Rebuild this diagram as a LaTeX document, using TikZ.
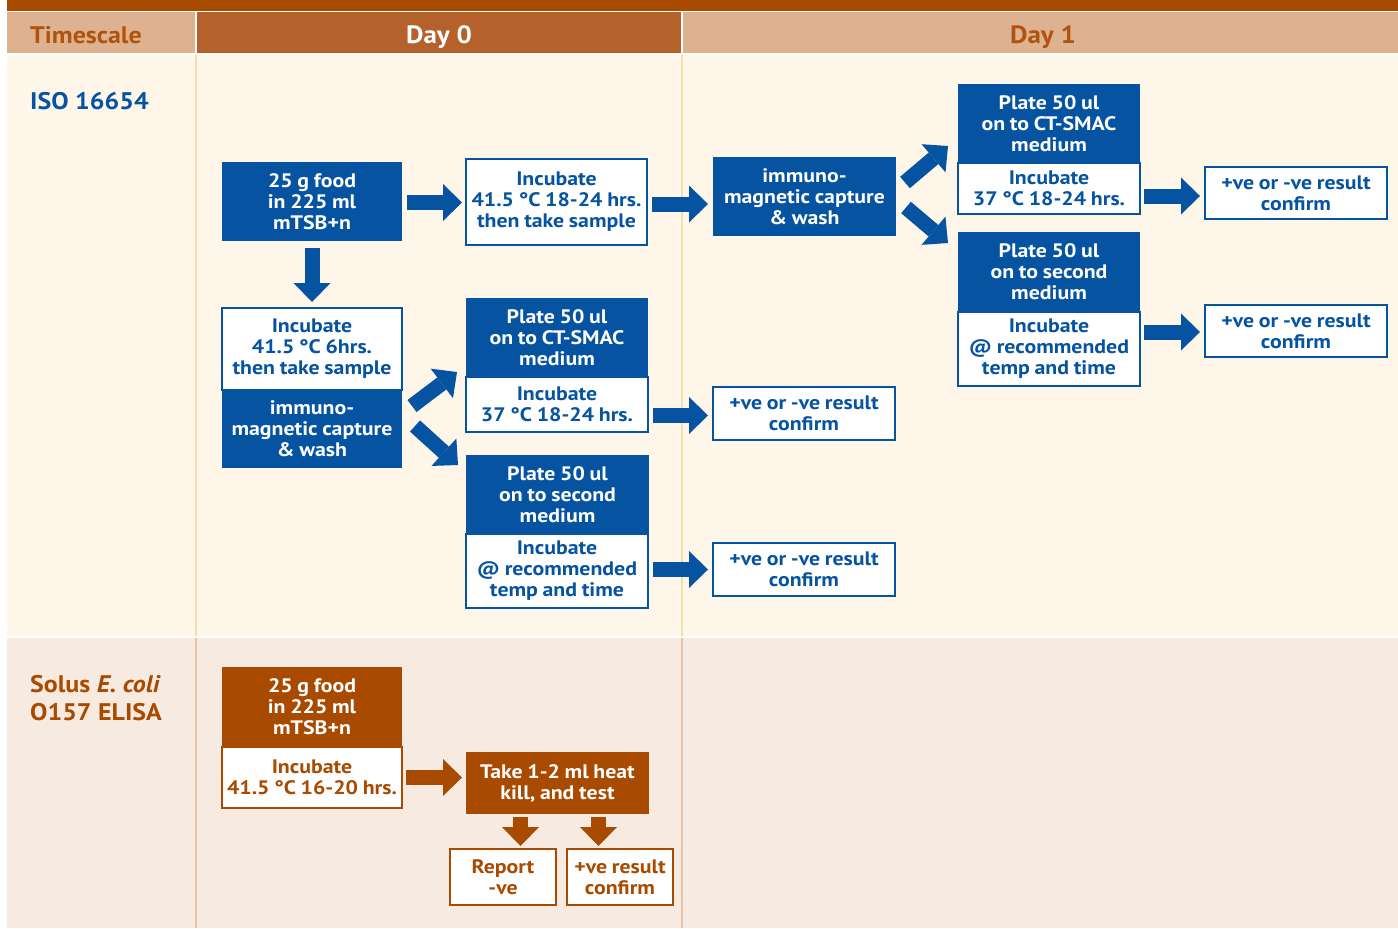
\documentclass[tikz,border=0pt]{standalone}
\usepackage{fontspec}
\setmainfont{PT Sans}
\newfontfamily\bodyfont{PT Sans}[FakeStretch=1.12, WordSpace=0.85]
\newfontfamily\lblfont{PT Sans}[FakeStretch=1.08]
\usetikzlibrary{arrows.meta}
\definecolor{isoblue}{HTML}{0553A1}
\definecolor{brn}{HTML}{A84A00}
\definecolor{hdrtan}{HTML}{DEB291}
\definecolor{hdrday}{HTML}{B5612B}
\definecolor{hdrtxt}{HTML}{B0530F}
\definecolor{isobg}{HTML}{FDF6E9}
\definecolor{solbg}{HTML}{F7EAE0}
\definecolor{isoline}{HTML}{F3DFAE}
\definecolor{solline}{HTML}{E6C3A6}
\tikzset{
  box/.style={anchor=north west, inner sep=0pt, outer sep=0pt, align=center,
    font=\bodyfont\bfseries\fontsize{19.5bp}{21bp}\selectfont},
  bluebox/.style={box, fill=isoblue, text=white},
  whitebox/.style={box, fill=white, draw=isoblue, line width=2bp, text=isoblue},
  brownbox/.style={box, fill=brn, text=white},
  wbrownbox/.style={box, fill=white, draw=brn, line width=2bp, text=brn},
  barrow/.style={draw=isoblue, line width=15bp,
    -{Triangle[width=37bp, length=19bp, line width=0pt]}},
  brarrow/.style={barrow, draw=brn},
  lbl/.style={anchor=base west, inner sep=0pt, font=\lblfont\bfseries\fontsize{24bp}{28bp}\selectfont},
  hdr/.style={anchor=base, inner sep=0pt, font=\lblfont\bfseries\fontsize{25bp}{28bp}\selectfont},
}
\begin{document}
\begin{tikzpicture}[x=1bp, y=-1bp]
\useasboundingbox (0,0) rectangle (1398,928);
% backgrounds
\fill[white] (0,0) rectangle (1398,928);
\fill[brn] (7,0) rectangle (1398,11);
\fill[hdrtan] (7,12) rectangle (195,53);
\fill[hdrday] (197,12) rectangle (681,53);
\fill[hdrtan] (683,12) rectangle (1398,53);
\fill[isobg] (7,55) rectangle (1398,636);
\fill[solbg] (7,638) rectangle (1398,928);
\draw[isoline, line width=2bp] (196,55) -- (196,636);
\draw[isoline, line width=2bp] (682,55) -- (682,636);
\draw[solline, line width=2bp] (196,638) -- (196,928);
\draw[solline, line width=2bp] (682,638) -- (682,928);
% headers
\node[lbl, text=hdrtxt] (ts) at (30,43) {Timescale};
\node[hdr, text=white] (d0) at (439,43) {Day 0};
\node[hdr, text=hdrtxt] (d1) at (1043,43) {Day 1};
\node[lbl, text=isoblue] (iso) at (30,109) {ISO 16654};
\node[lbl, text=brn] (sol1) at (30,692) {Solus \textit{E. coli}};
\node[lbl, text=brn] (sol2) at (30,720) {O157 ELISA};
% ISO day 0
\node[bluebox, minimum width=180bp, minimum height=79bp] (a1) at (222,162) {25 g food\\in 225 ml\\mTSB+n};
\node[whitebox, minimum width=181bp, minimum height=86bp] (a2) at (466,159) {Incubate\\41.5 °C 18-24 hrs.\\then take sample};
\node[bluebox, minimum width=183bp, minimum height=79bp] (a3) at (713,157) {immuno-\\magnetic capture\\\& wash};
\node[whitebox, minimum width=180bp, minimum height=82bp] (c1t) at (222,308) {Incubate\\41.5 °C 6hrs.\\then take sample};
\node[bluebox, minimum width=180bp, minimum height=78bp] (c1b) at (222,390) {immuno-\\magnetic capture\\\& wash};
\node[bluebox, minimum width=182bp, minimum height=79bp] (d1t) at (466,298) {Plate 50 ul\\on to CT-SMAC\\medium};
\node[whitebox, minimum width=182bp, minimum height=55bp] (d1b) at (466,377) {Incubate\\37 °C 18-24 hrs.};
\node[bluebox, minimum width=183bp, minimum height=79bp] (d2t) at (466,455) {Plate 50 ul\\on to second\\medium};
\node[whitebox, minimum width=182bp, minimum height=74bp] (d2b) at (466,534) {Incubate\\@ recommended\\temp and time};
\node[whitebox, minimum width=182bp, minimum height=53bp] (r3) at (713,387) {+ve or -ve result\\confirm};
\node[whitebox, minimum width=182bp, minimum height=53bp] (r4) at (713,543) {+ve or -ve result\\confirm};
% ISO day 1
\node[bluebox, minimum width=182bp, minimum height=79bp] (b1t) at (958,84) {Plate 50 ul\\on to CT-SMAC\\medium};
\node[whitebox, minimum width=182bp, minimum height=51bp] (b1b) at (958,163) {Incubate\\37 °C 18-24 hrs.};
\node[bluebox, minimum width=182bp, minimum height=80bp] (b2t) at (958,232) {Plate 50 ul\\on to second\\medium};
\node[whitebox, minimum width=182bp, minimum height=74bp] (b2b) at (958,312) {Incubate\\@ recommended\\temp and time};
\node[whitebox, minimum width=182bp, minimum height=52bp] (r1) at (1205,167) {+ve or -ve result\\confirm};
\node[whitebox, minimum width=182bp, minimum height=52bp] (r2) at (1205,305) {+ve or -ve result\\confirm};
% Solus
\node[brownbox, minimum width=180bp, minimum height=80bp] (e1t) at (222,667) {25 g food\\in 225 ml\\mTSB+n};
\node[wbrownbox, minimum width=180bp, minimum height=61bp] (e1b) at (222,747) {Incubate\\41.5 °C 16-20 hrs.};
\node[brownbox, minimum width=183bp, minimum height=62bp] (e2) at (466,752) {Take 1-2 ml heat\\kill, and test};
\node[wbrownbox, minimum width=106bp, minimum height=56bp] (f1) at (450,849) {Report\\-ve};
\node[wbrownbox, minimum width=106bp, minimum height=56bp] (f2) at (567,849) {+ve result\\confirm};
% arrows ISO
\draw[barrow, shorten <=5bp, shorten >=4bp] ([yshift=-1bp]a1.east) -- ([yshift=-1bp]a1.east -| a2.west);
\draw[barrow, shorten <=5bp, shorten >=5bp] ([yshift=-2bp]a2.east) -- ([yshift=-2bp]a2.east -| a3.west);
\draw[barrow] ([shift={(9,-14)}]a3.east) -- ([shift={(-10,-17)}]b1t.south west);
\draw[barrow] ([shift={(10,11)}]a3.east) -- ([shift={(-10,11)}]b2t.north west);
\draw[barrow, shorten <=4bp, shorten >=5bp] ([yshift=-3bp]r1.west -| b1b.east) -- ([yshift=-3bp]r1.west);
\draw[barrow, shorten <=4bp, shorten >=5bp] ([yshift=-1bp]r2.west -| b2b.east) -- ([yshift=-1bp]r2.west);
\draw[barrow, shorten <=7bp, shorten >=6bp] (a1.south) -- (c1t.north);
\draw[barrow] ([shift={(10,-23)}]c1b.east) -- ([shift={(-9,-5)}]d1t.south west);
\draw[barrow] ([shift={(13,-3)}]c1b.east) -- ([shift={(-8,10)}]d2t.north west);
\draw[barrow, shorten <=5bp, shorten >=5bp] ([yshift=-2bp]r3.west -| d1b.east) -- ([yshift=-2bp]r3.west);
\draw[barrow, shorten <=5bp, shorten >=5bp] (r4.west -| d2b.east) -- (r4.west);
% arrows Solus
\draw[brarrow, shorten <=4bp, shorten >=4bp] (e1b.east) -- (e1b.east -| e2.west);
\draw[brarrow, shorten <=3bp, shorten >=3bp] ([xshift=-37bp]e2.south) -- ([xshift=-37bp]e2.south |- f1.north);
\draw[brarrow, shorten <=3bp, shorten >=3bp] ([xshift=41bp]e2.south) -- ([xshift=41bp]e2.south |- f2.north);
\end{tikzpicture}
\end{document}
